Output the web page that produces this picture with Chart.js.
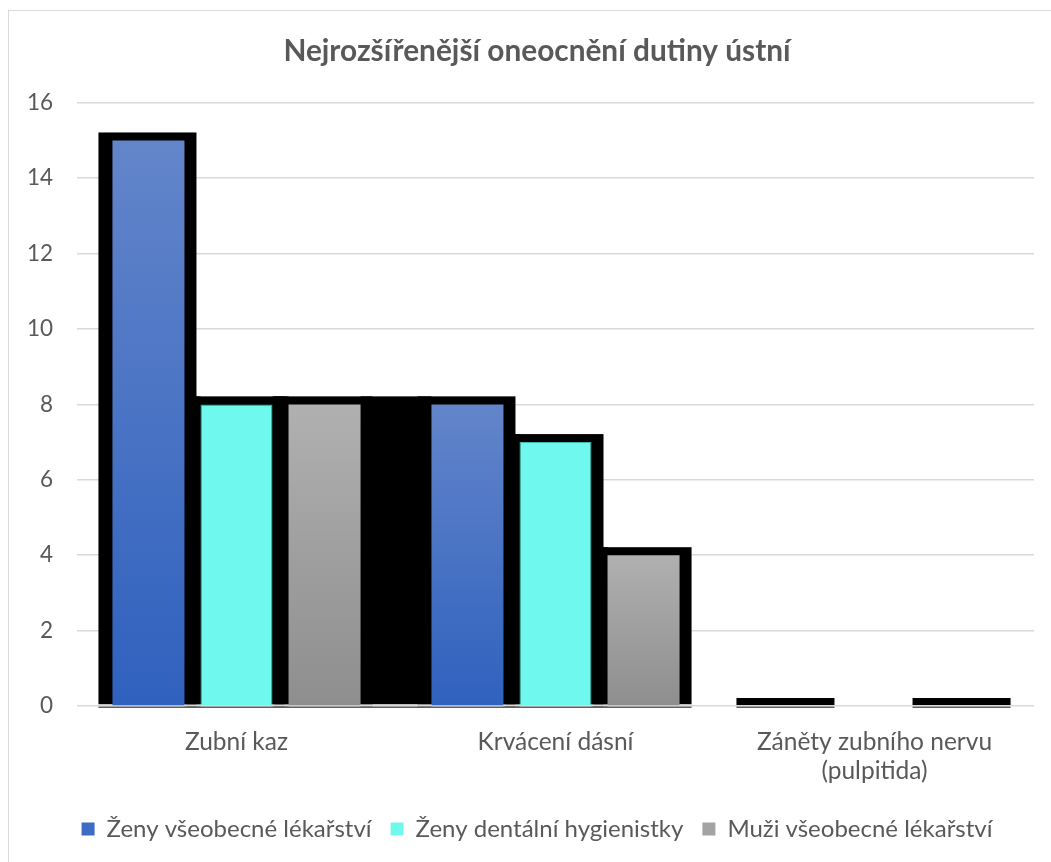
<!DOCTYPE html>
<html>
<head>
<meta charset="utf-8">
<script src="https://cdn.jsdelivr.net/npm/chart.js@4/dist/chart.umd.min.js"></script>
<style>
  html, body { margin: 0; padding: 0; background: #ffffff; overflow: hidden; }
  #wrap { position: relative; width: 1051px; height: 862px; overflow: hidden; }
  #chart { position: absolute; left: 0; top: 0; }
</style>
</head>
<body>
<div id="wrap"><canvas id="chart" width="1074" height="862"></canvas></div>
<script>
// Categories (x axis) and the three survey groups
const categories = ['Zubní kaz', 'Krvácení dásní', ['Záněty zubního nervu', '(pulpitida)']];
const zenyVseobecne = [15, 8, 0];
const zenyDentalni = [8, 7, null];
const muziVseobecne = [8, 4, 0];
const seriesNames = ['Ženy všeobecné lékařství', 'Ženy dentální hygienistky', 'Muži všeobecné lékařství'];
const yTicks = { min: 0, max: 16, step: 2 };

const TEXT = '#595959';
const FONT = 'Lato, "Noto Sans", sans-serif';

// Vertical gradient running over the height of each single bar
function barGradient(top, bottom) {
  return (ctx) => {
    if (ctx.type !== 'data') return top;
    const ys = ctx.chart.scales.y;
    const v = ctx.raw;
    if (v === null || v === undefined || !ys) return top;
    const y0 = ys.getPixelForValue(v);
    const y1 = ys.getPixelForValue(0);
    if (!isFinite(y0) || !isFinite(y1) || y0 === y1) return top;
    const g = ctx.chart.ctx.createLinearGradient(0, y0, 0, y1);
    g.addColorStop(0, top);
    g.addColorStop(1, bottom);
    return g;
  };
}

const legendColors = ['#3d6cc4', '#6ff9ee', '#a3a3a3'];

// Outer frame of the chart
const framePlugin = {
  id: 'frame',
  beforeDraw(chart) {
    const c = chart.ctx;
    c.save();
    c.fillStyle = '#ffffff';
    c.fillRect(0, 0, chart.width, chart.height);
    c.strokeStyle = '#d9d9d9';
    c.lineWidth = 1;
    c.strokeRect(8.5, 10.5, 1200, 1000);
    c.restore();
  }
};

// Heavy black shadow behind the bars, bridging neighbouring filled bars
const shadowPlugin = {
  id: 'barShadow',
  beforeDatasetsDraw(chart) {
    const c = chart.ctx;
    const LEFT = 14, RIGHT = 12, UP = 8;
    const bars = [];
    const n = chart.data.labels.length;
    for (let j = 0; j < n; j++) {
      chart.data.datasets.forEach((ds, i) => {
        const el = chart.getDatasetMeta(i).data[j];
        bars.push({ v: ds.data[j], el });
      });
    }
    c.save();
    c.fillStyle = '#000000';
    const segs = [];
    bars.forEach(({ v, el }) => {
      if (v === null || v === undefined || !el) return;
      const x0 = el.x - el.width / 2 - LEFT;
      const x1 = el.x + el.width / 2 + RIGHT;
      const top = el.y - UP;
      c.fillRect(x0, top, x1 - x0, el.base - top - 1);
      segs.push([x0, x1]);
    });
    for (let k = 0; k < bars.length - 1; k++) {
      const a = bars[k], b = bars[k + 1];
      if (!(a.v > 0 && b.v > 0)) continue;
      const x0 = a.el.x + a.el.width / 2;
      const x1 = b.el.x - b.el.width / 2;
      const top = Math.max(a.el.y, b.el.y) - UP;
      c.fillRect(x0, top, x1 - x0, a.el.base - top - 1);
      segs.push([x0, x1]);
    }
    const base = chart.scales.y.getPixelForValue(0);
    c.fillStyle = '#5f5f5f';
    segs.forEach(([x0, x1]) => c.fillRect(x0, base + 0.5, x1 - x0, 1.5));
    c.restore();
  }
};

new Chart(document.getElementById('chart'), {
  type: 'bar',
  data: {
    labels: categories,
    datasets: [
      {
        label: seriesNames[0],
        data: zenyVseobecne,
        backgroundColor: barGradient('#6385ca', '#2f61be'),
        borderWidth: 0
      },
      {
        label: seriesNames[1],
        data: zenyDentalni,
        backgroundColor: '#6ff9ee',
        borderColor: '#3fb8ac',
        borderWidth: 1
      },
      {
        label: seriesNames[2],
        data: muziVseobecne,
        backgroundColor: barGradient('#b0b0b0', '#8e8e8e'),
        borderWidth: 0
      }
    ]
  },
  options: {
    responsive: false,
    animation: false,
    devicePixelRatio: 1,
    barPercentage: 0.818,
    categoryPercentage: 0.828,
    layout: { padding: { left: 0, right: 0, top: 0, bottom: 11 } },
    plugins: {
      title: {
        display: true,
        text: 'Nejrozšířenější oneocnění dutiny ústní',
        color: TEXT,
        font: { family: FONT, size: 29.8, weight: 'bold', lineHeight: 1.2 },
        padding: { top: 34, bottom: 33 }
      },
      legend: {
        position: 'bottom',
        labels: {
          color: TEXT,
          font: { family: FONT, size: 24 },
          boxWidth: 13,
          boxHeight: 13,
          padding: 19,
          generateLabels(chart) {
            return chart.data.datasets.map((ds, i) => ({
              text: ds.label,
              fillStyle: legendColors[i],
              strokeStyle: legendColors[i],
              lineWidth: 0,
              fontColor: TEXT,
              hidden: false,
              datasetIndex: i
            }));
          }
        }
      },
      tooltip: { enabled: false }
    },
    scales: {
      x: {
        grid: { display: false, drawTicks: false },
        border: { display: false },
        ticks: {
          color: TEXT,
          font: { family: FONT, size: 24.5, lineHeight: 1.18 },
          padding: 22,
          maxRotation: 0
        },
        afterFit(scale) { scale.height = 92; }
      },
      y: {
        min: yTicks.min,
        max: yTicks.max,
        grid: { color: '#d9d9d9', lineWidth: 1.5, drawTicks: false },
        border: { display: false },
        ticks: {
          stepSize: yTicks.step,
          color: TEXT,
          font: { family: FONT, size: 22.5 },
          padding: 24
        },
        afterFit(scale) { scale.width = 77; }
      },
      // empty right-hand strip that keeps title and legend centred on the frame
      side: {
        type: 'linear',
        position: 'right',
        display: true,
        grid: { display: false, drawTicks: false },
        border: { display: false },
        ticks: { display: false },
        afterFit(scale) { scale.width = 40; }
      }
    }
  },
  plugins: [framePlugin, shadowPlugin]
});
</script>
</body>
</html>
